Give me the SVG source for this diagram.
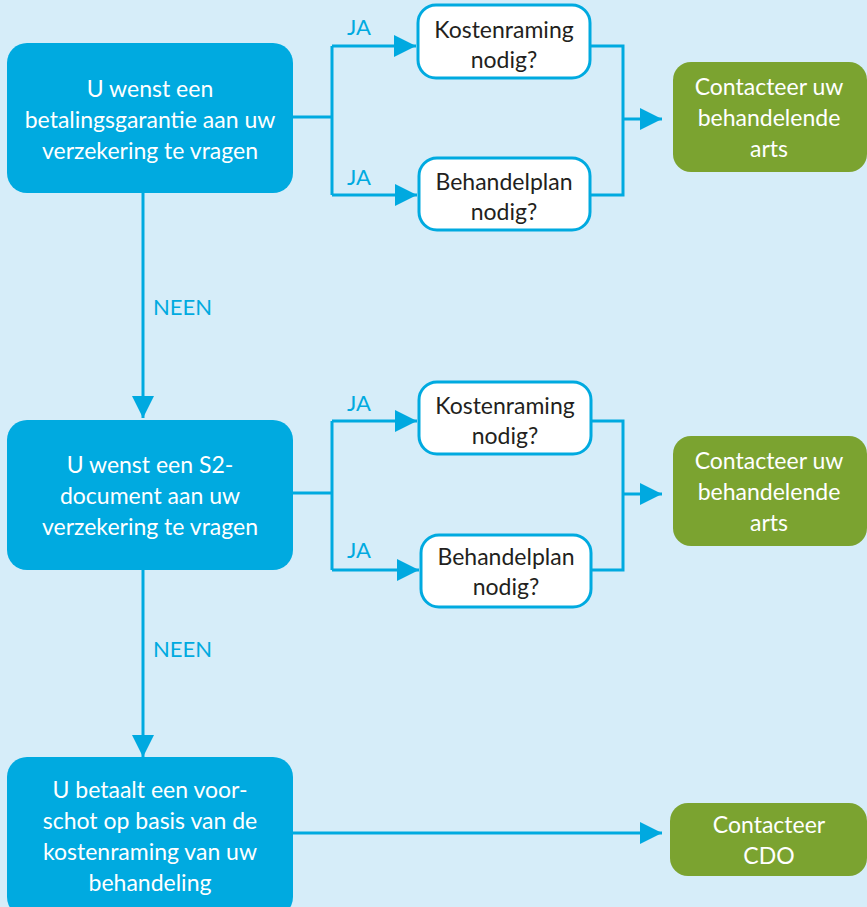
<svg xmlns="http://www.w3.org/2000/svg" width="867" height="907" viewBox="0 0 867 907">
<defs>
<marker id="arr" markerUnits="userSpaceOnUse" markerWidth="24" markerHeight="24" refX="22" refY="11" orient="auto">
<path d="M0,0 L22,11 L0,22 z" fill="#00a9e0"/>
</marker>
<style>
.bg{fill:#d6edf9}
.blue{fill:#00aae0}
.green{fill:#7ba330}
.white{fill:#ffffff;stroke:#00aae0;stroke-width:3}
.t{font-family:Lato,"Open Sans","Liberation Sans",sans-serif;font-size:23px;text-anchor:middle}
.tw{fill:#ffffff}
.td{fill:#231f20}
.lbl{font-family:Lato,"Open Sans","Liberation Sans",sans-serif;font-size:22px;fill:#00aae0}
.c{fill:none;stroke:#00aae0;stroke-width:3}
</style>
</defs>
<rect class="bg" x="0" y="0" width="867" height="907"/>
<g id="connectors">
<polyline class="c" points="293,117 332,117"/>
<polyline class="c" points="332,46 332,195"/>
<polyline class="c" points="332,46 416,46" marker-end="url(#arr)"/>
<polyline class="c" points="332,195 417,195" marker-end="url(#arr)"/>
<polyline class="c" points="590,46 623,46 623,195 590,195"/>
<polyline class="c" points="623,119 662,119" marker-end="url(#arr)"/>
<polyline class="c" points="143,193 143,418" marker-end="url(#arr)"/>
<polyline class="c" points="293,493 332,493"/>
<polyline class="c" points="332,421 332,570"/>
<polyline class="c" points="332,421 417,421" marker-end="url(#arr)"/>
<polyline class="c" points="332,570 419,570" marker-end="url(#arr)"/>
<polyline class="c" points="591,421 623,421 623,570 591,570"/>
<polyline class="c" points="623,494 662,494" marker-end="url(#arr)"/>
<polyline class="c" points="143,570 143,757" marker-end="url(#arr)"/>
<polyline class="c" points="293,833 662,833" marker-end="url(#arr)"/>
<text class="lbl" x="347" y="35">JA</text>
<text class="lbl" x="347" y="185">JA</text>
<text class="lbl" x="347" y="411">JA</text>
<text class="lbl" x="347" y="558">JA</text>
<text class="lbl" x="153" y="315">NEEN</text>
<text class="lbl" x="153" y="657">NEEN</text>
</g>
<g id="q1">
<rect class="blue" x="7" y="43" width="286" height="150" rx="20"/>
<text class="t tw" x="150" y="97">U wenst een</text>
<text class="t tw" x="150" y="128">betalingsgarantie aan uw</text>
<text class="t tw" x="150" y="159">verzekering te vragen</text>
</g>
<g id="k1">
<rect class="white" x="418" y="5" width="172" height="73" rx="18"/>
<text class="t td" x="504" y="38">Kostenraming</text>
<text class="t td" x="504" y="68">nodig?</text>
</g>
<g id="b1">
<rect class="white" x="419" y="158" width="171" height="72" rx="18"/>
<text class="t td" x="504" y="190">Behandelplan</text>
<text class="t td" x="504" y="220">nodig?</text>
</g>
<g id="g1">
<rect class="green" x="673" y="62" width="194" height="110" rx="18"/>
<text class="t tw" x="769" y="95">Contacteer uw</text>
<text class="t tw" x="769" y="126">behandelende</text>
<text class="t tw" x="769" y="157">arts</text>
</g>
<g id="q2">
<rect class="blue" x="7" y="420" width="286" height="150" rx="20"/>
<text class="t tw" x="150" y="473">U wenst een S2-</text>
<text class="t tw" x="150" y="504">document aan uw</text>
<text class="t tw" x="150" y="535">verzekering te vragen</text>
</g>
<g id="k2">
<rect class="white" x="419" y="382" width="172" height="72" rx="18"/>
<text class="t td" x="505" y="414">Kostenraming</text>
<text class="t td" x="505" y="444">nodig?</text>
</g>
<g id="b2">
<rect class="white" x="421" y="535" width="170" height="72" rx="18"/>
<text class="t td" x="506" y="565">Behandelplan</text>
<text class="t td" x="506" y="595">nodig?</text>
</g>
<g id="g2">
<rect class="green" x="673" y="436" width="194" height="110" rx="18"/>
<text class="t tw" x="769" y="469">Contacteer uw</text>
<text class="t tw" x="769" y="500">behandelende</text>
<text class="t tw" x="769" y="531">arts</text>
</g>
<g id="q3">
<rect class="blue" x="7" y="757" width="286" height="160" rx="20"/>
<text class="t tw" x="150" y="798">U betaalt een voor-</text>
<text class="t tw" x="150" y="829">schot op basis van de</text>
<text class="t tw" x="150" y="860">kostenraming van uw</text>
<text class="t tw" x="150" y="891">behandeling</text>
</g>
<g id="g3">
<rect class="green" x="670" y="803" width="197" height="73" rx="18"/>
<text class="t tw" x="769" y="833">Contacteer</text>
<text class="t tw" x="769" y="864">CDO</text>
</g>
</svg>
